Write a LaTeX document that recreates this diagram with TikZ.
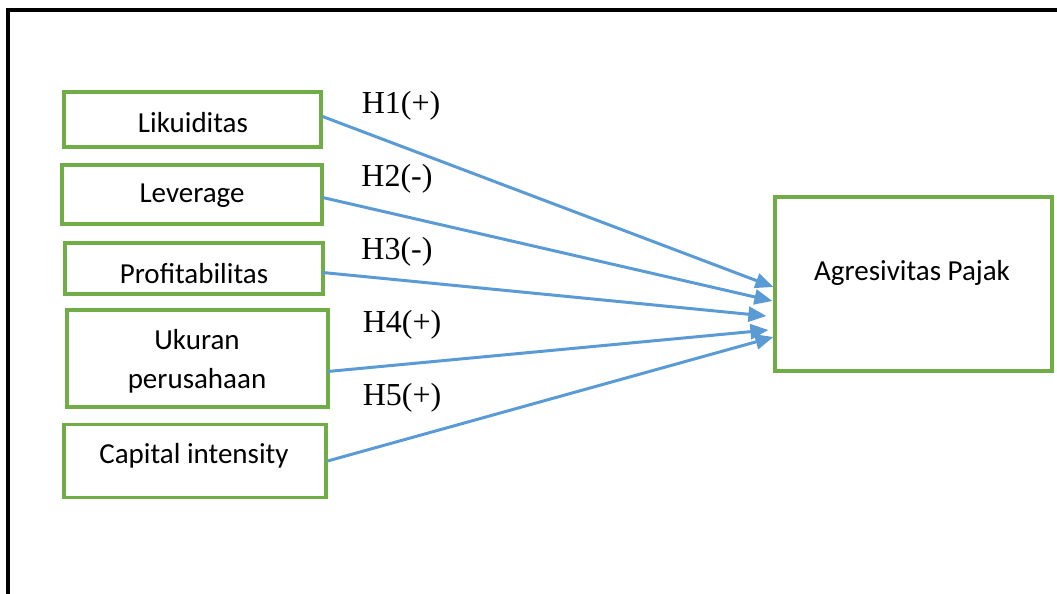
\documentclass[tikz,border=0pt]{standalone}
\usepackage{fontspec}
\setmainfont{Carlito}
\newfontfamily\hfont{Liberation Serif}
\usetikzlibrary{arrows.meta,calc}
\definecolor{boxgreen}{HTML}{70AD47}
\definecolor{arrblue}{HTML}{5B9BD5}
\begin{document}
\begin{tikzpicture}[x=1pt,y=-1pt,
  vbox/.style={draw=boxgreen,line width=3.2pt,rectangle,inner sep=0pt},
  vtext/.style={font=\fontsize{29}{39}\selectfont,align=center,inner sep=0pt},
  hlab/.style={font=\hfont\fontsize{32}{36}\selectfont,inner sep=0pt},
  arr/.style={draw=arrblue,line width=3pt,-{Triangle[length=18pt,width=15pt]}},
  frame/.style={draw=black,line width=3.6pt}]
\useasboundingbox (0,0) rectangle (1057,594);
% frame (left and top edges)
\coordinate (fbl) at (8,600);
\coordinate (ftl) at (8,10);
\coordinate (ftr) at (1060,10);
\draw[frame] (fbl) -- (ftl) -- (ftr);
% boxes
\node[vbox,minimum width=257pt,minimum height=55pt] (lik) at (192.5,119.5) {};
\node[vbox,minimum width=260pt,minimum height=59pt] (lev) at (192,194.5) {};
\node[vbox,minimum width=258pt,minimum height=51pt] (pro) at (194,268.5) {};
\node[vbox,minimum width=261pt,minimum height=97pt] (uku) at (197.5,358.5) {};
\node[vbox,minimum width=262pt,minimum height=73pt] (cap) at (195,461) {};
\node[vbox,minimum width=277pt,minimum height=174pt] (agr) at (913.5,284) {};
% texts
\node[vtext] (tlik) at (193,123) {Likuiditas};
\node[vtext] (tlev) at (192,196) {Leverage};
\node[vtext] (tpro) at (194,274) {Profitabilitas};
\node[vtext] (tuku) at (197,361) {Ukuran\\perusahaan};
\node[vtext] (tcap) at (194,456) {Capital intensity};
\node[vtext] (tagr) at (912,273) {Agresivitas Pajak};
% hypothesis labels
\node[hlab] (h1) at (401,106) {H1(+)};
\node[hlab] (h2) at (397,179) {H2(-)};
\node[hlab] (h3) at (397,252) {H3(-)};
\node[hlab] (h4) at (402,325) {H4(+)};
\node[hlab] (h5) at (402,398) {H5(+)};
% arrows
\draw[arr] ($(lik.east)+(0,-3)$) -- ($(agr.west)+(0,3)$);
\draw[arr] ($(lev.east)+(-1,3)$) -- ($(agr.west)+(-1,17)$);
\draw[arr] ($(pro.east)+(-2,4)$) -- ($(agr.west)+(-7,32)$);
\draw[arr] ($(uku.east)+(-2,13)$) -- ($(agr.west)+(-5,46)$);
\draw[arr] ($(cap.east)+(0,0)$) -- ($(agr.west)+(0,53)$);
\end{tikzpicture}
\end{document}
